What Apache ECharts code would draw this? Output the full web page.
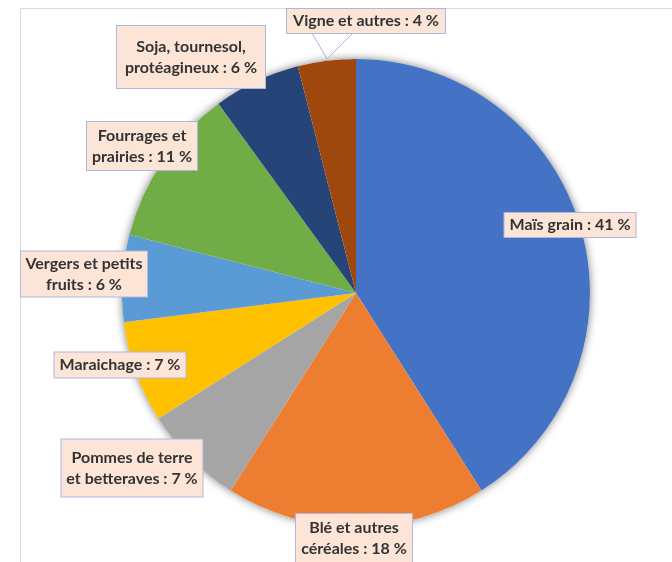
<html>
    <head>
        <meta charset="utf-8">
        <script src="https://cdn.jsdelivr.net/npm/echarts@6/dist/echarts.min.js"></script>
    </head>
    <body>
        <style>
            html, body, #main {
                width: 100%;
                height: 100%;
                margin: 0;
                background: #fff;
            }
        </style>
        <div id="main"></div>
        <script>
            // share of each crop, in %, clockwise from 12 o'clock
            var categories = ['Maïs grain', 'Blé et autres\ncéréales', 'Pommes de terre\net betteraves',
                'Maraichage', 'Vergers et petits\nfruits', 'Fourrages et\nprairies',
                'Soja, tournesol,\nprotéagineux', 'Vigne et autres'];
            var values = [41, 18, 7, 7, 6, 11, 6, 4];
            var colors = ['#4472C4', '#ED7D31', '#A5A5A5', '#FFC000', '#5B9BD5', '#70AD47', '#264478', '#9E480E'];

            // where each label box sits (centre of the box) and its size
            var labelPos = [[570, 225], [354, 538], [132, 468], [120, 365], [84, 274], [142, 146], [191, 57], [366, 21]];
            var boxSize = [[131, 24], [116, 48], [141, 57], [131, 25], [126, 45], [110, 48], [148, 62], [158, 24]];

            var chart = echarts.init(document.getElementById('main'));
            var option = {
                animation: false,
                graphic: [{
                    type: 'polyline',
                    shape: { points: [[20.5, 562], [20.5, 8.5], [672, 8.5]] },
                    style: { stroke: '#d9d9d9', lineWidth: 1, fill: null },
                    z: -1
                }],
                series: [{
                    // soft shadow under the whole pie
                    type: 'pie',
                    center: [356, 293],
                    radius: 234,
                    silent: true,
                    label: { show: false },
                    labelLine: { show: false },
                    itemStyle: { color: '#fff', shadowBlur: 9, shadowColor: 'rgba(0,0,0,0.5)' },
                    data: [1],
                    z: 1
                }, {
                    type: 'pie',
                    center: [356, 293],
                    radius: 234,
                    startAngle: 90,
                    clockwise: true,
                    z: 2,
                    itemStyle: { borderWidth: 0 },
                    data: categories.map(function (name, i) {
                        var lines = name.split('\n').length;
                        var lh = 21;
                        return {
                            name: name,
                            value: values[i],
                            itemStyle: { color: colors[i] },
                            label: {
                                width: boxSize[i][0] - 4,
                                padding: [(boxSize[i][1] - lines * lh) / 2, 2]
                            },
                            labelLine: { show: i === 7 }
                        };
                    }),
                    label: {
                        show: true,
                        formatter: '{b} : {c} %',
                        fontFamily: 'Lato',
                        fontWeight: 'bold',
                        fontSize: 16,
                        lineHeight: 21,
                        color: '#333333',
                        align: 'center',
                        backgroundColor: '#FCE4D6',
                        borderColor: '#AEB6E2',
                        borderWidth: 1
                    },
                    labelLine: {
                        show: false,
                        lineStyle: { color: '#AEB6E2', width: 1 }
                    },
                    labelLayout: function (params) {
                        var i = params.dataIndex;
                        var out = {
                            x: labelPos[i][0],
                            y: labelPos[i][1],
                            align: 'center',
                            verticalAlign: 'middle'
                        };
                        if (i === 7) {
                            out.labelLinePoints = [[312, 33], [327, 59], [353, 33]];
                        }
                        return out;
                    }
                }]
            };
            chart.setOption(option);
            window.onresize = chart.resize;
        </script>
    </body>
</html>
